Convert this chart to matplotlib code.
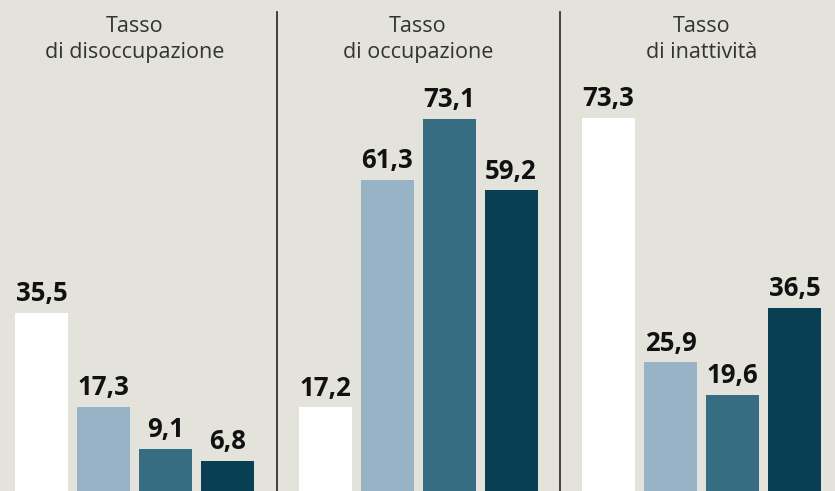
import matplotlib.pyplot as plt

plt.rcParams['font.family'] = ['Open Sans', 'DejaVu Sans']

TITLES = ["Tasso\ndi disoccupazione", "Tasso\ndi occupazione", "Tasso\ndi inattività"]
GROUP_VALUES = [
    [35.5, 17.3, 9.1, 6.8],
    [17.2, 61.3, 73.1, 59.2],
    [73.3, 25.9, 19.6, 36.5],
]
COLORS = ["#ffffff", "#97b3c5", "#366d82", "#083f52"]
BG = "#e3e2db"

fig = plt.figure(figsize=(8.35, 4.91), dpi=100)
fig.patch.set_facecolor(BG)
ax = fig.add_axes([0, 0, 1, 1])
ax.set_facecolor(BG)
ax.set_xlim(0, 835)
ax.set_ylim(0.97, 96.1)
ax.axis('off')

group_step = 283.5
bar_step = 62
bar_w = 53
first = 15

for g, vals in enumerate(GROUP_VALUES):
    start = first + g * group_step
    for i, v in enumerate(vals):
        x = start + i * bar_step
        ax.bar(x, v, width=bar_w, align='edge', color=COLORS[i], linewidth=0)
        ax.annotate(f"{v:.1f}".replace('.', ','), (x + bar_w / 2, v),
                    xytext=(0, 4), textcoords='offset points',
                    ha='center', va='bottom', fontsize=18.5, fontweight='bold',
                    color='#111111')
    center = start + (3 * bar_step + bar_w) / 2
    ax.text(center, 0.968, TITLES[g], transform=ax.get_xaxis_transform(),
            ha='center', va='top', fontsize=15.5, color='#333333',
            linespacing=1.3)

for xs in (277, 559.5):
    ax.plot([xs, xs], [0, 0.975], transform=ax.get_xaxis_transform(),
            color='#333333', linewidth=1.3)

fig.savefig("out.png", dpi=100, facecolor=BG)
